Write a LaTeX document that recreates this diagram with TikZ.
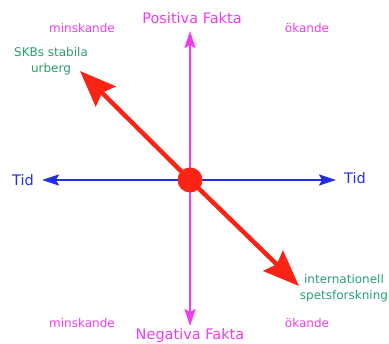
\documentclass[tikz,border=0pt]{standalone}
\usepackage{fontspec}
\setmainfont{DejaVu Sans}
\usetikzlibrary{arrows.meta}
\definecolor{mag}{RGB}{238,60,238}
\definecolor{tblue}{RGB}{35,45,225}
\definecolor{tred}{RGB}{250,35,20}
\definecolor{tgreen}{RGB}{40,160,110}
\tikzset{
  lbl/.style={inner sep=0pt, align=center},
  big/.style={lbl, font=\fontsize{14.5}{17}\selectfont},
  small/.style={lbl, font=\fontsize{12}{16}\selectfont},
  magaxis/.style={draw=mag, line width=2pt, -{Stealth[length=17pt,width=11pt,inset=3pt]}},
  blueaxis/.style={draw=tblue, line width=2pt, -{Stealth[length=17pt,width=11pt,inset=3pt]}},
  redarrow/.style={draw=tred, line width=4.5pt, -{Stealth[length=36pt,width=28pt,inset=5pt]}},
}
\begin{document}
\begin{tikzpicture}[x=1pt,y=-1pt]
\useasboundingbox (0,0) rectangle (389,344);
\coordinate (c) at (190,180);
\coordinate (top) at (190,31);
\coordinate (bot) at (190,326);
\coordinate (left) at (42,180);
\coordinate (right) at (336,180);
\coordinate (ul) at (80,71);
\coordinate (lr) at (299,286);
\draw[magaxis] (c) -- (top);
\draw[magaxis] (c) -- (bot);
\draw[blueaxis] (c) -- (left);
\draw[blueaxis] (c) -- (right);
\draw[redarrow] (c) -- (ul);
\draw[redarrow] (c) -- (lr);
\node[circle, fill=tred, minimum size=25pt, inner sep=0pt] (dot) at (c) {};
\node[big, text=mag] (pos) at (192,18) {Positiva Fakta};
\node[big, text=mag] (neg) at (190,336) {Negativa Fakta};
\node[big, text=tblue] (tidl) at (23,180) {Tid};
\node[big, text=tblue] (tidr) at (355,178) {Tid};
\node[small, text=mag] (m1) at (82,28) {minskande};
\node[small, text=mag] (o1) at (307,28) {ökande};
\node[small, text=mag] (m2) at (82,323) {minskande};
\node[small, text=mag] (o2) at (307,323) {ökande};
\node[small, text=tgreen] (skb) at (51,61) {SKBs stabila\\urberg};
\node[small, text=tgreen] (int) at (344,288) {internationell\\spetsforskning};
\end{tikzpicture}
\end{document}
